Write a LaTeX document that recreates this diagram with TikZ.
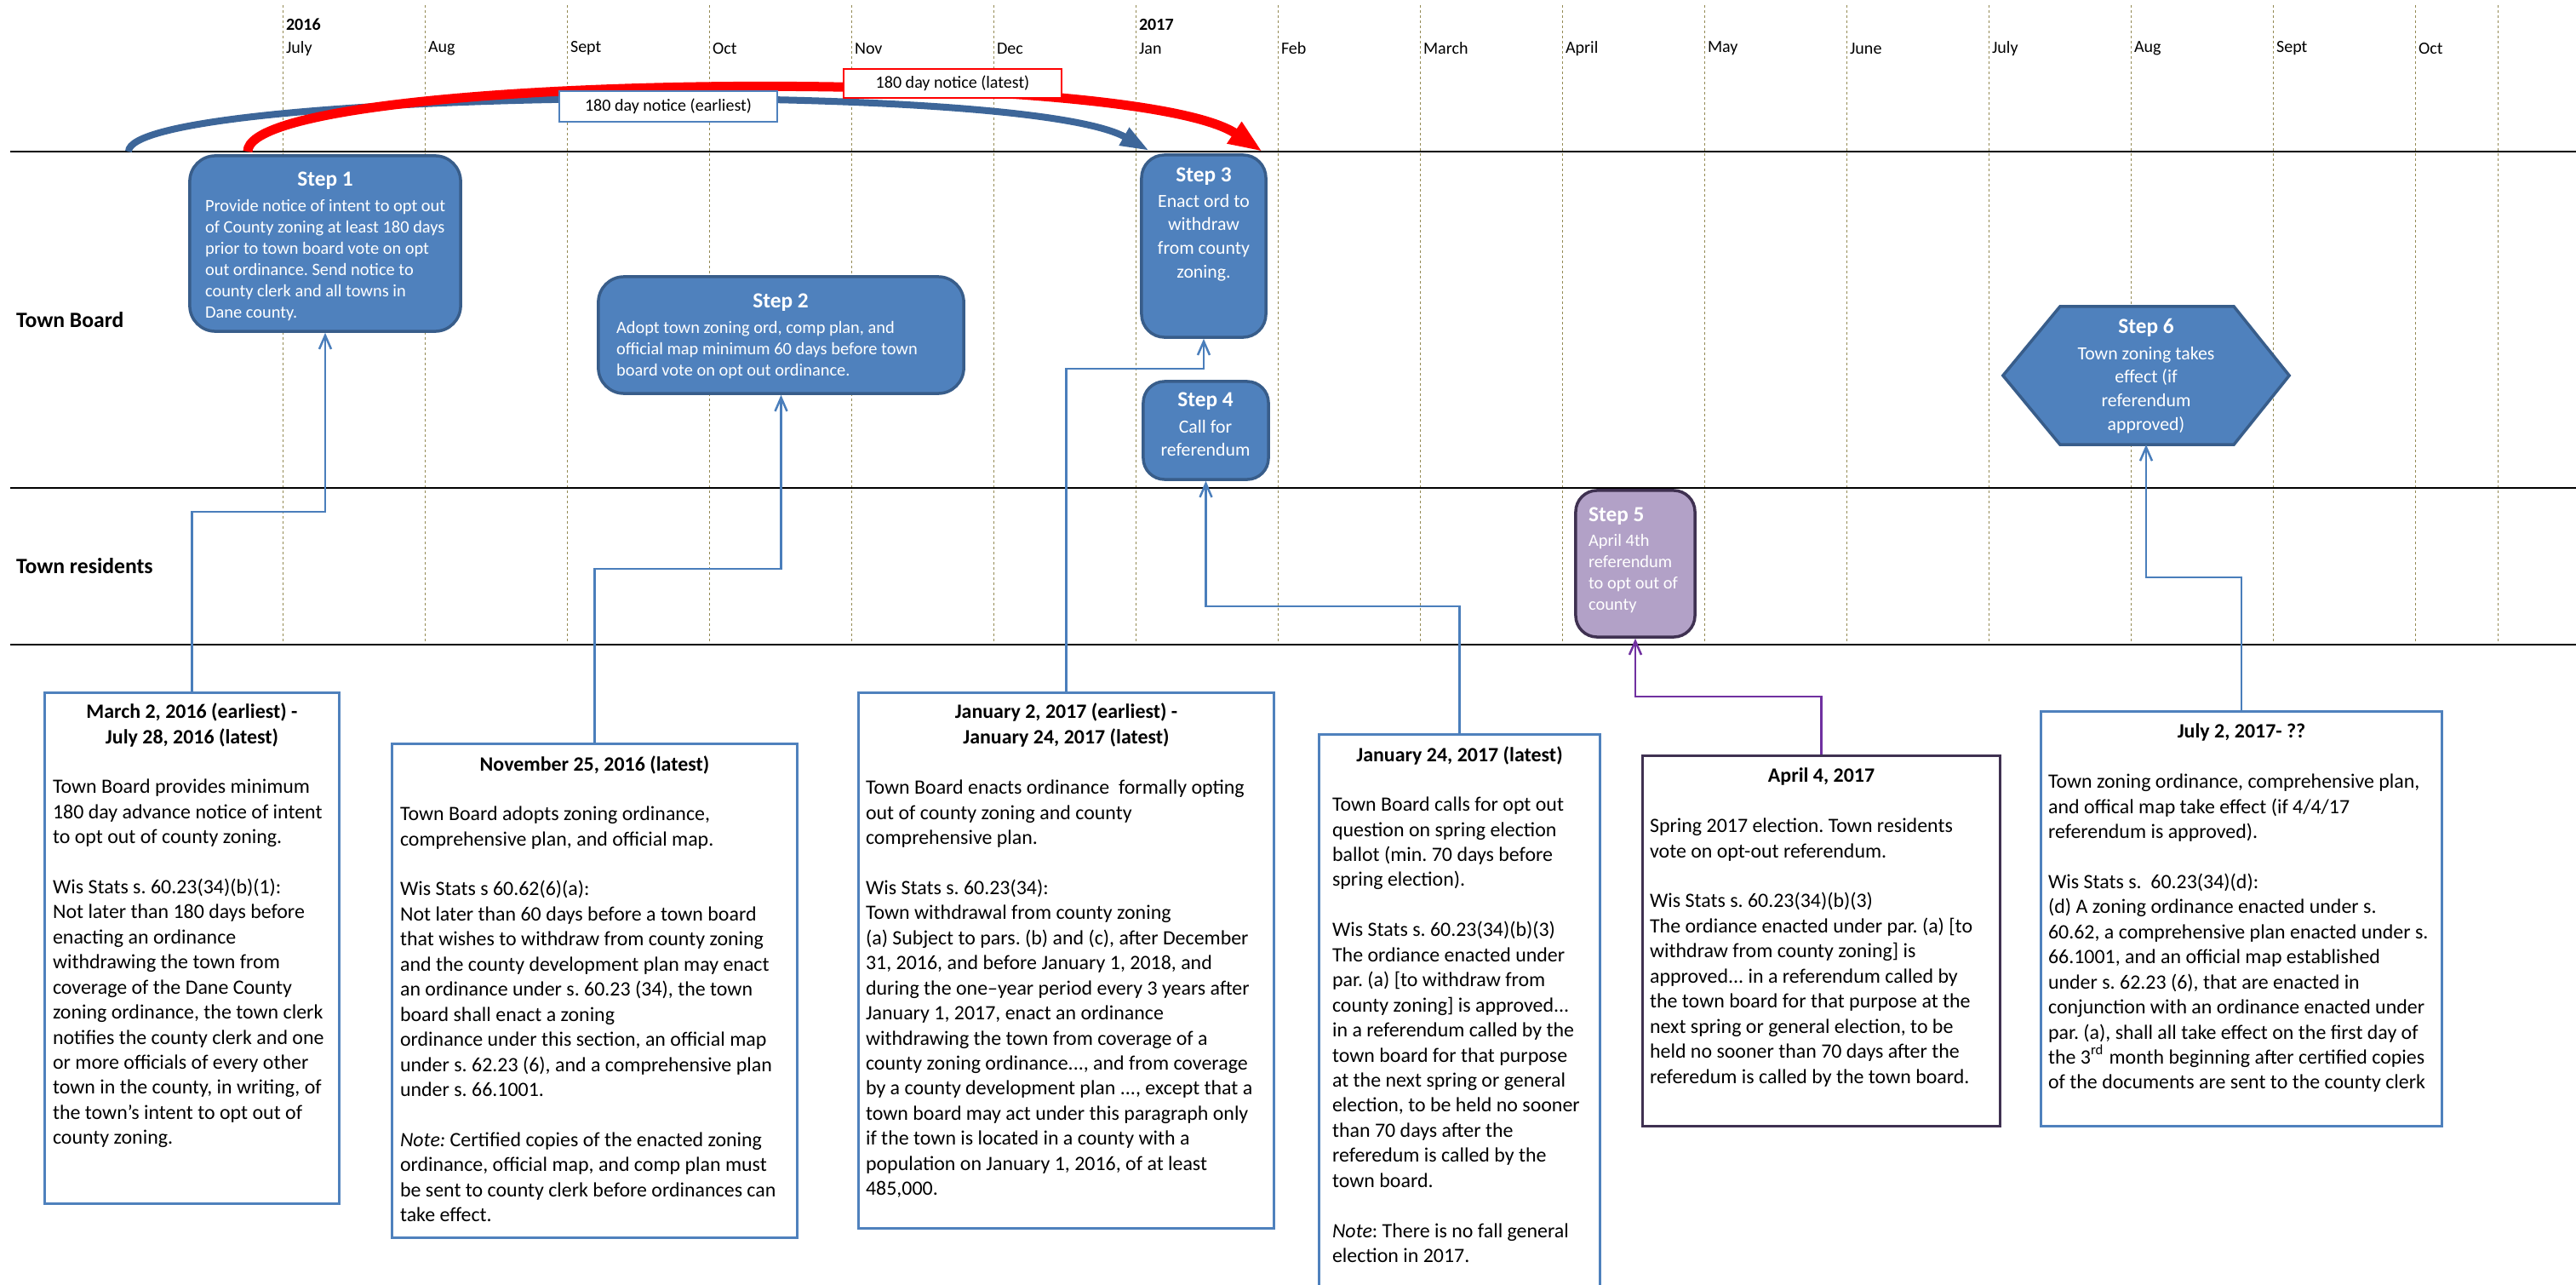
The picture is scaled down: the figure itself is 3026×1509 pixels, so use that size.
\documentclass[tikz,border=0pt]{standalone}
\usepackage{fontspec}
\setmainfont{Carlito}
\usepackage{xcolor}
\definecolor{stepblue}{HTML}{4F81BD}
\definecolor{stepedge}{HTML}{385D8A}
\definecolor{linkblue}{HTML}{4A7EBB}
\definecolor{arcblue}{HTML}{3D6699}
\definecolor{votefill}{HTML}{B2A1C7}
\definecolor{voteedge}{HTML}{3F3151}
\definecolor{linkpurple}{HTML}{7030A0}
\definecolor{gridolive}{HTML}{948A54}
\usepackage{tikz}
\usetikzlibrary{arrows.meta}
\newcommand{\boxfont}{\fontsize{6.8}{8.37}\selectfont}
\newcommand{\stepfont}{\fontsize{5.8}{7.1}\selectfont}
\newcommand{\stepbigfont}{\fontsize{6.2}{7.9}\selectfont}
\newcommand{\steptitle}{\fontsize{7.2}{8.6}\selectfont\bfseries}
\newcommand{\monthfont}{\fontsize{5.7}{6.8}\selectfont}
\newcommand{\lanefont}{\fontsize{7.3}{8.8}\selectfont\bfseries}
\frenchspacing

\begin{document}
\begin{tikzpicture}[x=0.01cm,y=-0.01cm,>={Straight Barb[length=0.16cm,width=0.14cm]},
                    semithick]
  \tikzstyle{lane}=[black,line width=0.025cm]
  \tikzstyle{monthline}=[gridolive,line width=0.01cm,dash pattern=on 0.03cm off 0.03cm]
  \tikzstyle{month}=[anchor=west,inner sep=0pt,font=\monthfont]
  \tikzstyle{stepbox}=[draw=stepedge,fill=stepblue,line width=0.035cm,rounded corners=0.3cm,inner sep=0pt]
  \tikzstyle{steptext}=[inner sep=0pt,text=white]
  \tikzstyle{datebox}=[draw=stepblue,line width=0.03cm,inner sep=0pt]
  \tikzstyle{datehead}=[anchor=north,inner sep=0pt,align=center,font=\boxfont\bfseries]
  \tikzstyle{datetext}=[anchor=north west,inner sep=0pt,align=left,font=\boxfont]
  \tikzstyle{link}=[->,linkblue,line width=0.025cm]

  \fill[white] (0,0) rectangle (3026,1509);
  \useasboundingbox (0,0) rectangle (3026,1509);

  \foreach \m [count=\i from 0] in {July,Aug,Sept,Oct,Nov,Dec,Jan,Feb,March,April,May,June,July,Aug,Sept,Oct}{
    \draw[monthline] (332+167*\i,6) -- (332+167*\i,757);
    \node[month] (m\i) at (335+167*\i,57) {\m};
  }
  \draw[monthline] (2934,6) -- (2934,757);
  \node[month,font=\monthfont\bfseries] (y2016) at (335,29) {2016};
  \node[month,font=\monthfont\bfseries] (y2017) at (1337,29) {2017};

  \draw[lane] (12,178) -- (3026,178);
  \draw[lane] (12,573) -- (3026,573);
  \draw[lane] (12,757) -- (3026,757);
  \node[anchor=west,inner sep=0pt,font=\lanefont] (board) at (18,376) {Town Board};
  \node[anchor=west,inner sep=0pt,font=\lanefont] (residents) at (18,665) {Town residents};

  % notice arcs
  \coordinate (bStart) at (151,178);
  \coordinate (bEnd) at (1350,177);
  \coordinate (rStart) at (291,178);
  \coordinate (rEnd) at (1483,178);
  \draw[arcblue,line width=0.08cm,-{Triangle[length=0.34cm,width=0.22cm]}]
    (bStart) .. controls (151,105) and (1200,92) .. (bEnd);
  \draw[red,line width=0.11cm,-{Triangle[length=0.4cm,width=0.28cm]}]
    (rStart) .. controls (291,85) and (1330,75) .. (rEnd);
  \node[draw=stepblue,fill=white,line width=0.02cm,minimum width=2.55cm,minimum height=0.35cm,
        inner sep=0pt,font=\monthfont] (early) at (785,125) {180 day notice (earliest)};
  \node[draw=red,fill=white,line width=0.02cm,minimum width=2.56cm,minimum height=0.34cm,
        inner sep=0pt,font=\monthfont] (late) at (1119,98) {180 day notice (latest)};

  % steps
  \node[stepbox,minimum width=3.18cm,minimum height=2.06cm] (s1) at (382,286) {};
  \node[steptext,anchor=north,font=\steptitle] (s1t) at (382,201) {Step 1};
  \node[steptext,anchor=north west,align=left,font=\stepfont] (s1b) at (240,233)
    {Provide notice of intent to opt out\\
     of County zoning at least 180 days\\
     prior to town board vote on opt\\
     out ordinance. Send notice to\\
     county clerk and all towns in\\
     Dane county.};

  \node[stepbox,minimum width=4.29cm,minimum height=1.37cm] (s2) at (917.5,393.5) {};
  \node[steptext,anchor=north,font=\steptitle] (s2t) at (917,344) {Step 2};
  \node[steptext,anchor=north west,align=left,font=\stepfont] (s2b) at (723,376)
    {Adopt town zoning ord, comp plan, and\\
     official map minimum 60 days before town\\
     board vote on opt out ordinance.};

  \node[stepbox,rounded corners=0.27cm,minimum width=1.46cm,minimum height=2.14cm] (s3) at (1414,289) {};
  \node[steptext,anchor=north,font=\steptitle] (s3t) at (1414,196) {Step 3};
  \node[steptext,anchor=north,align=center,font=\stepbigfont] (s3b) at (1414,227)
    {Enact ord to\\withdraw\\from county\\zoning.};

  \node[stepbox,rounded corners=0.25cm,minimum width=1.47cm,minimum height=1.15cm] (s4) at (1416.5,505.5) {};
  \node[steptext,anchor=north,font=\steptitle] (s4t) at (1416,460) {Step 4};
  \node[steptext,anchor=north,align=center,font=\stepbigfont] (s4b) at (1416,492)
    {Call for\\referendum};

  \node[stepbox,draw=voteedge,fill=votefill,rounded corners=0.25cm,minimum width=1.40cm,
        minimum height=1.72cm] (s5) at (1921,662) {};
  \node[steptext,anchor=north west,font=\steptitle] (s5t) at (1865,595) {Step 5};
  \node[steptext,anchor=north west,align=left,font=\stepfont] (s5b) at (1865,626)
    {April 4th\\referendum\\to opt out of\\county};

  \node[inner sep=0pt,minimum width=3.34cm,minimum height=1.6cm] (s6) at (2521,441) {};
  \draw[draw=stepedge,fill=stepblue,line width=0.035cm] (s6.west) -- ([xshift=0.67cm]s6.north west)
    -- ([xshift=-0.65cm]s6.north east) -- (s6.east) -- ([xshift=-0.65cm]s6.south east)
    -- ([xshift=0.67cm]s6.south west) -- cycle;
  \node[steptext,anchor=north,font=\steptitle] (s6t) at (2521,373) {Step 6};
  \node[steptext,anchor=north,align=center,font=\stepbigfont] (s6b) at (2521,406)
    {Town zoning takes\\effect (if\\referendum\\approved)};

  % dates and statutes
  \node[datebox,minimum width=3.45cm,minimum height=5.99cm] (dA) at (225.5,1113.5) {};
  \node[datehead] (hA) at (225.5,825) {March 2, 2016 (earliest) -\\July 28, 2016 (latest)};
  \node[datetext] (tA) at (61,914)
    {Town Board provides minimum\\
     180 day advance notice of intent\\
     to opt out of county zoning.\\[8.37pt]
     Wis Stats s. 60.23(34)(b)(1):\\
     Not later than 180 days before\\
     enacting an ordinance\\
     withdrawing the town from\\
     coverage of the Dane County\\
     zoning ordinance, the town clerk\\
     notifies the county clerk and one\\
     or more officials of every other\\
     town in the county, in writing, of\\
     the town's intent to opt out of\\
     county zoning.};

  \node[datebox,minimum width=4.75cm,minimum height=5.79cm] (dB) at (698.5,1163.5) {};
  \node[datehead] (hB) at (698.5,887) {November 25, 2016 (latest)};
  \node[datetext] (tB) at (469,946)
    {Town Board adopts zoning ordinance,\\
     comprehensive plan, and official map.\\[8.37pt]
     Wis Stats s 60.62(6)(a):\\
     Not later than 60 days before a town board\\
     that wishes to withdraw from county zoning\\
     and the county development plan may enact\\
     an ordinance under s. 60.23 (34), the town\\
     board shall enact a zoning\\
     ordinance under this section, an official map\\
     under s. 62.23 (6), and a comprehensive plan\\
     under s. 66.1001.\\[8.37pt]
     \textit{Note:} Certified copies of the enacted zoning\\
     ordinance, official map, and comp plan must\\
     be sent to county clerk before ordinances can\\
     take effect.};

  \node[datebox,minimum width=4.87cm,minimum height=6.28cm] (dC) at (1252.5,1128) {};
  \node[datehead] (hC) at (1252.5,825) {January 2, 2017 (earliest) -\\January 24, 2017 (latest)};
  \node[datetext] (tC) at (1016,915)
    {Town Board enacts ordinance\ \ formally opting\\
     out of county zoning and county\\
     comprehensive plan.\\[8.37pt]
     Wis Stats s. 60.23(34):\\
     Town withdrawal from county zoning\\
     (a) Subject to pars. (b) and (c), after December\\
     31, 2016, and before January 1, 2018, and\\
     during the one–year period every 3 years after\\
     January 1, 2017, enact an ordinance\\
     withdrawing the town from coverage of a\\
     county zoning ordinance..., and from coverage\\
     by a county development plan ..., except that a\\
     town board may act under this paragraph only\\
     if the town is located in a county with a\\
     population on January 1, 2016, of at least\\
     485,000.};

  \node[datebox,minimum width=3.29cm,minimum height=6.67cm] (dD) at (1714.5,1196.5) {};
  \node[datehead] (hD) at (1714.5,876) {January 24, 2017 (latest)};
  \node[datetext] (tD) at (1564,935)
    {Town Board calls for opt out\\
     question on spring election\\
     ballot (min. 70 days before\\
     spring election).\\[8.37pt]
     Wis Stats s. 60.23(34)(b)(3)\\
     The ordiance enacted under\\
     par. (a) [to withdraw from\\
     county zoning] is approved...\\
     in a referendum called by the\\
     town board for that purpose\\
     at the next spring or general\\
     election, to be held no sooner\\
     than 70 days after the\\
     referedum is called by the\\
     town board.\\[8.37pt]
     \textit{Note}: There is no fall general\\
     election in 2017.};

  \node[datebox,draw=voteedge,minimum width=4.19cm,minimum height=4.34cm] (dE) at (2139.5,1105) {};
  \node[datehead] (hE) at (2139.5,901) {April 4, 2017};
  \node[datetext] (tE) at (1937,960)
    {Spring 2017 election. Town residents\\
     vote on opt-out referendum.\\[8.37pt]
     Wis Stats s. 60.23(34)(b)(3)\\
     The ordiance enacted under par. (a) [to\\
     withdraw from county zoning] is\\
     approved... in a referendum called by\\
     the town board for that purpose at the\\
     next spring or general election, to be\\
     held no sooner than 70 days after the\\
     referedum is called by the town board.};

  \node[datebox,minimum width=4.70cm,minimum height=4.86cm] (dF) at (2633,1079) {};
  \node[datehead] (hF) at (2633,849) {July 2, 2017- ??};
  \node[datetext] (tF) at (2405,908)
    {Town zoning ordinance, comprehensive plan,\\
     and offical map take effect (if 4/4/17\\
     referendum is approved).\\[8.37pt]
     Wis Stats s.\ \ 60.23(34)(d):\\
     (d) A zoning ordinance enacted under s.\\
     60.62, a comprehensive plan enacted under s.\\
     66.1001, and an official map established\\
     under s. 62.23 (6), that are enacted in\\
     conjunction with an ordinance enacted under\\
     par. (a), shall all take effect on the first day of\\
     the 3\textsuperscript{rd} month beginning after certified copies\\
     of the documents are sent to the county clerk};

  % links
  \draw[link] (dA.north) -- (dA.north |- 0,601) -| (s1.south);
  \draw[link] (dB.north) -- (dB.north |- 0,668) -| (s2.south);
  \draw[link] (dC.north) -- (dC.north |- 0,433) -| (s3.south);
  \draw[link] (dD.north) -- (dD.north |- 0,712) -| (s4.south);
  \draw[link,linkpurple] (dE.north) -- (dE.north |- 0,818) -| (s5.south);
  \draw[link] (dF.north) -- (dF.north |- 0,678) -| (s6.south);
\end{tikzpicture}
\end{document}
